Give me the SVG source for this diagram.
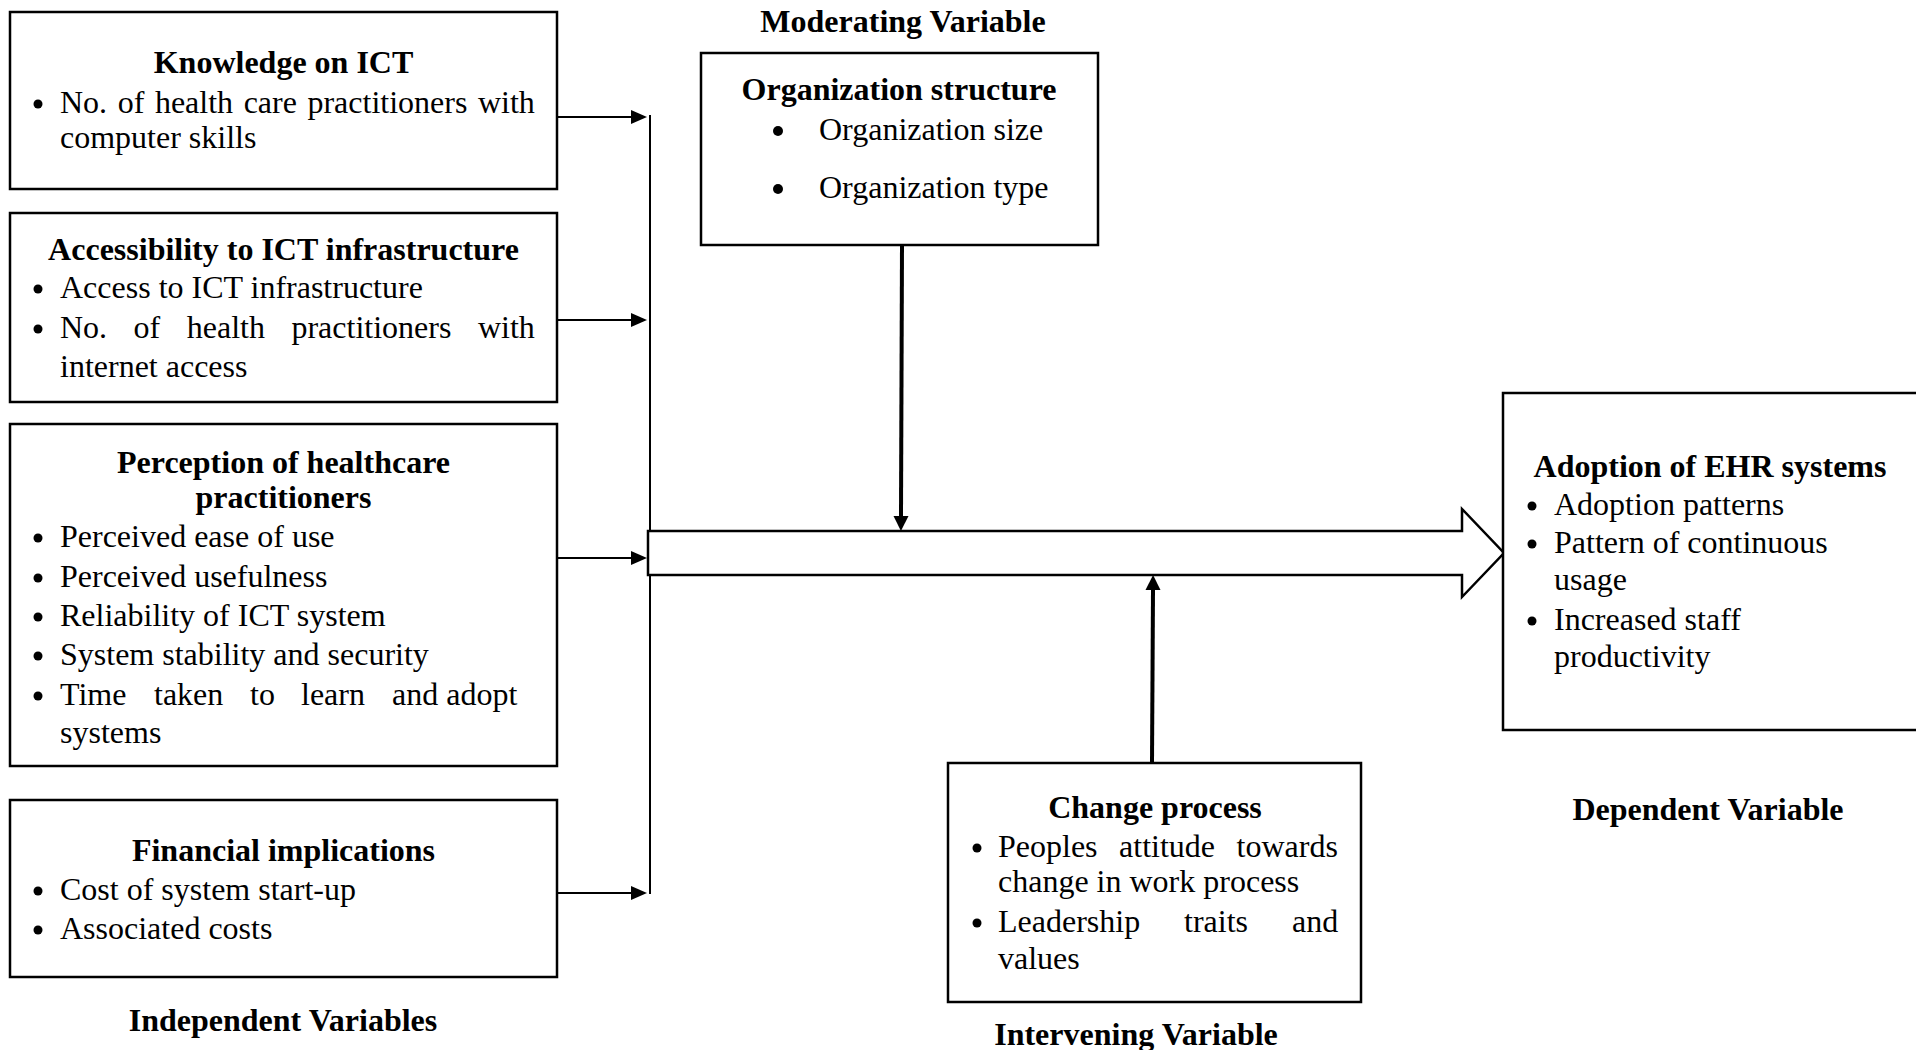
<svg xmlns="http://www.w3.org/2000/svg" width="1916" height="1050" viewBox="0 0 1916 1050">
<style>
text{font-family:"Liberation Serif","Times New Roman",serif;font-size:32px;fill:#000}
.t{font-weight:bold;text-anchor:middle}
.box{fill:#fff;stroke:#000;stroke-width:2.5}
.thin{stroke:#000;stroke-width:2;fill:none}
.thick{stroke:#000;stroke-width:4;fill:none}
.b{fill:#000}
</style>
<defs>
<marker id="ah" markerUnits="userSpaceOnUse" markerWidth="18" markerHeight="16" viewBox="0 -8 18 16" refX="0" refY="0" orient="auto">
<path d="M0,-7 L16,0 L0,7 z" fill="#000"/>
</marker>
<marker id="ahb" markerUnits="userSpaceOnUse" markerWidth="18" markerHeight="16" viewBox="0 -8 18 16" refX="0" refY="0" orient="auto">
<path d="M0,-7.5 L15,0 L0,7.5 z" fill="#000"/>
</marker>
</defs>

<g id="connectors">
<line class="thin" x1="650" y1="115" x2="650" y2="894"/>
<line class="thin" x1="557" y1="117" x2="631" y2="117" marker-end="url(#ah)"/>
<line class="thin" x1="557" y1="320" x2="631" y2="320" marker-end="url(#ah)"/>
<line class="thin" x1="557" y1="558" x2="631" y2="558" marker-end="url(#ah)"/>
<line class="thin" x1="557" y1="893" x2="631" y2="893" marker-end="url(#ah)"/>
<polygon class="box" points="648,531 1462,531 1462,509 1504,553 1462,597 1462,575 648,575"/>
<line class="thick" x1="902" y1="245" x2="901" y2="516" marker-end="url(#ahb)"/>
<line class="thick" x1="1152" y1="762" x2="1153" y2="590" marker-end="url(#ahb)"/>
</g>

<g id="knowledge">
<rect class="box" x="10" y="12" width="547" height="177"/>
<text class="t" x="283.5" y="73">Knowledge on ICT</text>
<circle class="b" cx="38" cy="104" r="4.5"/>
<text x="60" y="113" word-spacing="2.56">No. of health care practitioners with</text>
<text x="60" y="148">computer skills</text>
</g>

<g id="accessibility">
<rect class="box" x="10" y="213" width="547" height="189"/>
<text class="t" x="283.5" y="260">Accessibility to ICT infrastructure</text>
<circle class="b" cx="38" cy="289" r="4.5"/>
<text x="60" y="298">Access to ICT infrastructure</text>
<circle class="b" cx="38" cy="329" r="4.5"/>
<text x="60" y="338" word-spacing="18.5">No. of health practitioners with</text>
<text x="60" y="377">internet access</text>
</g>

<g id="perception">
<rect class="box" x="10" y="424" width="547" height="342"/>
<text class="t" x="283.5" y="473">Perception of healthcare</text>
<text class="t" x="283.5" y="508">practitioners</text>
<circle class="b" cx="38" cy="538" r="4.5"/>
<text x="60" y="547">Perceived ease of use</text>
<circle class="b" cx="38" cy="578" r="4.5"/>
<text x="60" y="587">Perceived usefulness</text>
<circle class="b" cx="38" cy="617" r="4.5"/>
<text x="60" y="626">Reliability of ICT system</text>
<circle class="b" cx="38" cy="656" r="4.5"/>
<text x="60" y="665">System stability and security</text>
<circle class="b" cx="38" cy="696" r="4.5"/>
<text y="705"><tspan x="60">Time</tspan><tspan x="154">taken</tspan><tspan x="250">to</tspan><tspan x="301">learn</tspan><tspan x="392">and adopt</tspan></text>
<text x="60" y="743">systems</text>
</g>

<g id="financial">
<rect class="box" x="10" y="800" width="547" height="177"/>
<text class="t" x="283.5" y="861">Financial implications</text>
<circle class="b" cx="38" cy="891" r="4.5"/>
<text x="60" y="900">Cost of system start-up</text>
<circle class="b" cx="38" cy="930" r="4.5"/>
<text x="60" y="939">Associated costs</text>
</g>
<text class="t" x="283" y="1031">Independent Variables</text>

<g id="organization">
<text class="t" x="903" y="32">Moderating Variable</text>
<rect class="box" x="701" y="53" width="397" height="192"/>
<text class="t" x="899" y="100">Organization structure</text>
<circle class="b" cx="778" cy="131" r="5"/>
<text x="819" y="140">Organization size</text>
<circle class="b" cx="778" cy="189" r="5"/>
<text x="819" y="198">Organization type</text>
</g>

<g id="change">
<rect class="box" x="948" y="763" width="413" height="239"/>
<text class="t" x="1155" y="818">Change process</text>
<circle class="b" cx="977" cy="848" r="4.5"/>
<text x="998" y="857" word-spacing="13.5">Peoples attitude towards</text>
<text x="998" y="892">change in work process</text>
<circle class="b" cx="977" cy="923" r="4.5"/>
<text y="932"><tspan x="998">Leadership</tspan><tspan x="1184">traits</tspan><tspan x="1292">and</tspan></text>
<text x="998" y="969">values</text>
<text class="t" x="1136" y="1045">Intervening Variable</text>
</g>

<g id="adoption">
<rect class="box" x="1503" y="393" width="420" height="337"/>
<text class="t" x="1710" y="477">Adoption of EHR systems</text>
<circle class="b" cx="1532" cy="506" r="4.5"/>
<text x="1554" y="515">Adoption patterns</text>
<circle class="b" cx="1532" cy="544" r="4.5"/>
<text x="1554" y="553">Pattern of continuous</text>
<text x="1554" y="590">usage</text>
<circle class="b" cx="1532" cy="621" r="4.5"/>
<text x="1554" y="630">Increased staff</text>
<text x="1554" y="667">productivity</text>
<text class="t" x="1708" y="820">Dependent Variable</text>
</g>
</svg>
